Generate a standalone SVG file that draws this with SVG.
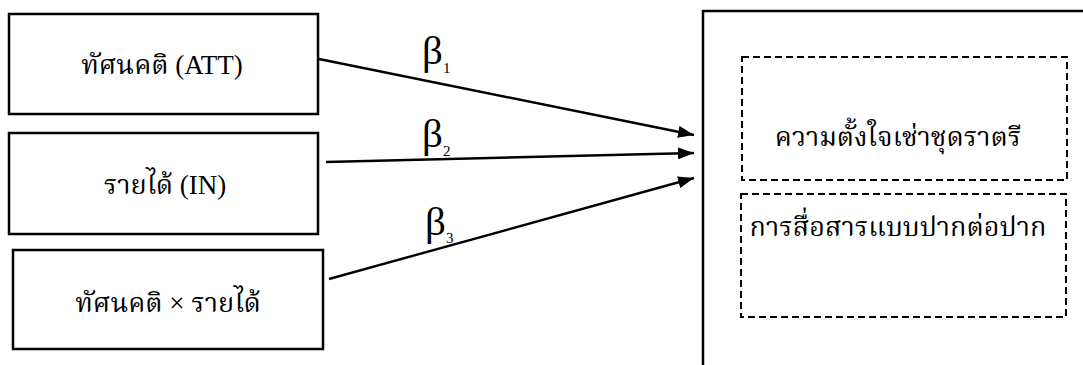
<svg xmlns="http://www.w3.org/2000/svg" width="1083" height="365" viewBox="0 0 1083 365">
<style>
.box{fill:#fff;stroke:#000;stroke-width:2.5}
.dash{fill:none;stroke:#000;stroke-width:2;stroke-dasharray:7,4}
.t{font-family:"Liberation Serif","Noto Serif Thai","Noto Sans Thai",serif;font-size:27px;fill:#000;text-anchor:middle}
.b{font-family:"Liberation Serif",serif;font-size:41px;fill:#000}
.s{font-size:15px}
.c{stroke:#000;stroke-width:2.4;fill:none;marker-end:url(#ah)}
</style>
<defs>
<marker id="ah" viewBox="0 0 16 12" refX="16" refY="6" markerWidth="16" markerHeight="12" markerUnits="userSpaceOnUse" orient="auto">
<path d="M0,0 L16,6 L0,12 z" fill="#000"/>
</marker>
</defs>
<rect width="1083" height="365" fill="#fff"/>
<g id="att"><rect class="box" x="9" y="14" width="309" height="100"/><text class="t" x="162" y="74">ทัศนคติ (ATT)</text></g>
<g id="in"><rect class="box" x="9" y="133" width="309" height="101"/><text class="t" x="165" y="194">รายได้ (IN)</text></g>
<g id="attin"><rect class="box" x="13" y="250" width="310" height="99"/><text class="t" x="168" y="312">ทัศนคติ × รายได้</text></g>
<g id="outcome"><rect class="box" x="703" y="11" width="400" height="370"/>
<rect class="dash" x="742" y="57" width="325" height="123"/><text class="t" x="898" y="146">ความตั้งใจเช่าชุดราตรี</text>
<rect class="dash" x="741" y="194" width="325" height="123"/><text class="t" x="898" y="236">การสื่อสารแบบปากต่อปาก</text></g>
<g id="connectors">
<line class="c" x1="319" y1="59" x2="694" y2="135"/>
<line class="c" x1="326" y1="162" x2="694" y2="153"/>
<line class="c" x1="329" y1="279" x2="694" y2="178"/>
<text class="b" x="422" y="64">β<tspan class="s" dy="9">1</tspan></text>
<text class="b" x="422" y="147">β<tspan class="s" dy="9">2</tspan></text>
<text class="b" x="425" y="235">β<tspan class="s" dy="8">3</tspan></text>
</g>
</svg>
